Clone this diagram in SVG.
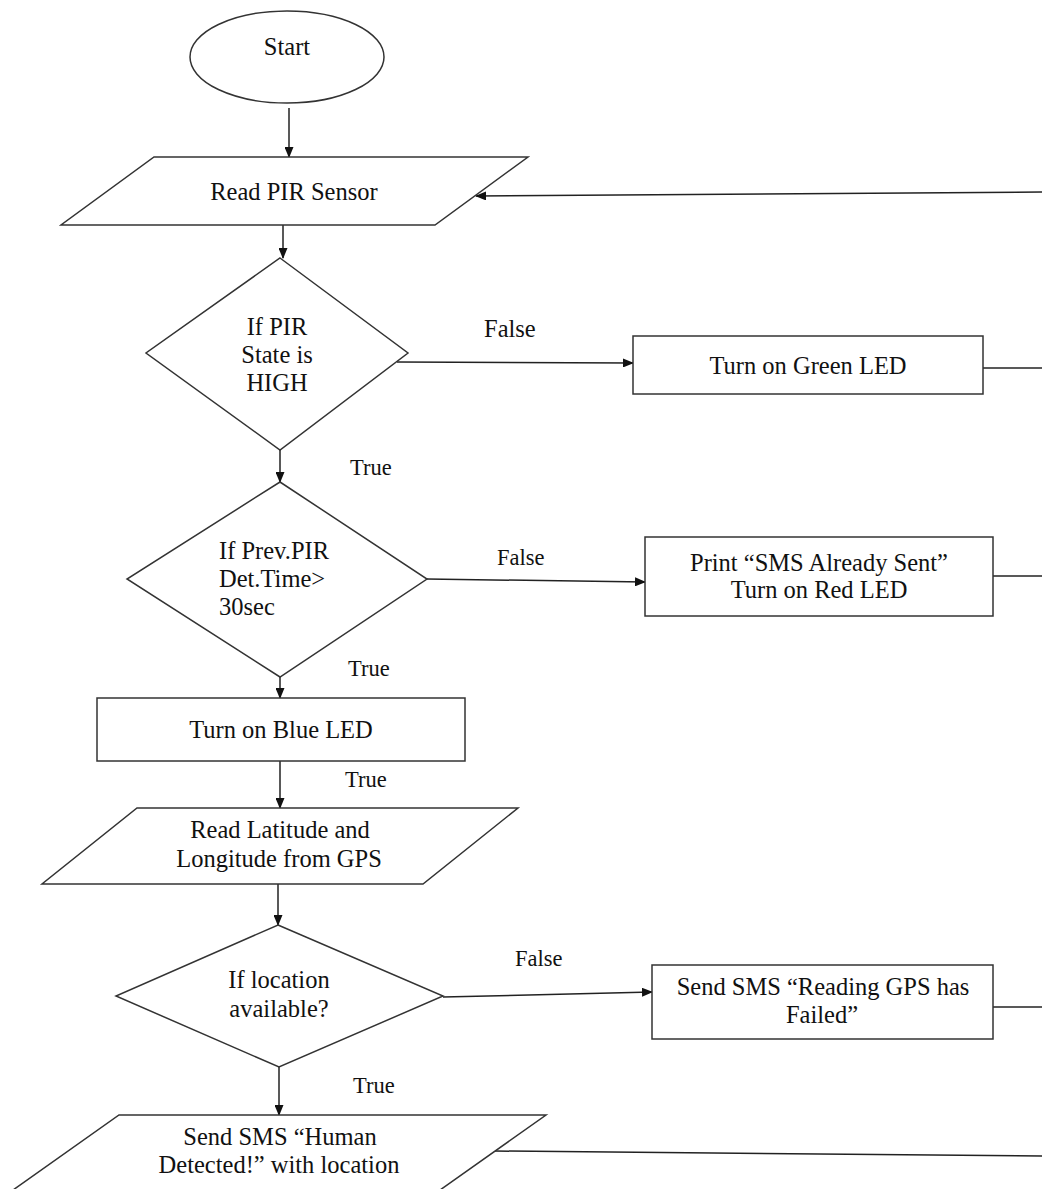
<svg xmlns="http://www.w3.org/2000/svg" width="1042" height="1189" viewBox="0 0 1042 1189" font-family="'Liberation Serif', Tinos, 'Times New Roman', 'DejaVu Serif', serif">
<defs>
<marker id="arr" markerWidth="11" markerHeight="9" refX="10" refY="4.5" orient="auto" markerUnits="userSpaceOnUse"><path d="M0,0 L11,4.5 L0,9 Z" fill="#111"/></marker>
</defs>
<style>
.shape{fill:#fff;stroke:#333;stroke-width:1.5}
.line{fill:none;stroke:#222;stroke-width:1.5}
text{font-family:'Liberation Serif', Tinos, 'Times New Roman', 'DejaVu Serif', serif;font-size:24.5px;fill:#111}
.c{text-anchor:middle}
.lbl{font-size:22.5px}
</style>
<rect width="1042" height="1189" fill="#fff"/>

<g id="connectors">
<path class="line" d="M289,108 L289,157" marker-end="url(#arr)"/>
<path class="line" d="M283,225 L283,258" marker-end="url(#arr)"/>
<path class="line" d="M397,362 L633,363" marker-end="url(#arr)"/>
<path class="line" d="M983,368 L1042,368"/>
<path class="line" d="M1042,192 L476,196" marker-end="url(#arr)"/>
<path class="line" d="M280,450 L280,482" marker-end="url(#arr)"/>
<path class="line" d="M427,579 L645,582" marker-end="url(#arr)"/>
<path class="line" d="M993,576 L1042,576"/>
<path class="line" d="M280,677 L280,698" marker-end="url(#arr)"/>
<path class="line" d="M280,761 L280,808" marker-end="url(#arr)"/>
<path class="line" d="M278,884 L278,925" marker-end="url(#arr)"/>
<path class="line" d="M443,997 L652,992" marker-end="url(#arr)"/>
<path class="line" d="M993,1007 L1042,1007"/>
<path class="line" d="M279,1067 L279,1115" marker-end="url(#arr)"/>
<path class="line" d="M495,1151 L1042,1156"/>
<text x="484" y="337">False</text>
<text class="lbl" x="350" y="475">True</text>
<text class="lbl" x="497" y="565">False</text>
<text class="lbl" x="348" y="676">True</text>
<text class="lbl" x="345" y="787">True</text>
<text class="lbl" x="515" y="966">False</text>
<text class="lbl" x="353" y="1093">True</text>
</g>

<g id="start">
<ellipse class="shape" cx="287" cy="57" rx="97" ry="46"/>
<text class="c" x="287" y="55">Start</text>
</g>

<g id="read-pir">
<polygon class="shape" points="154,157 528,157 435,225 61,225"/>
<text class="c" x="294" y="200">Read PIR Sensor</text>
</g>

<g id="pir-high">
<polygon class="shape" points="280,258 408,353 280,450 146,353"/>
<text class="c" x="277" y="335">If PIR</text>
<text class="c" x="277" y="363">State is</text>
<text class="c" x="277" y="391">HIGH</text>
</g>

<g id="green-led">
<rect class="shape" x="633" y="336" width="350" height="58"/>
<text class="c" x="808" y="374">Turn on Green LED</text>
</g>

<g id="prev-time">
<polygon class="shape" points="280,482 427,579 280,677 127,579"/>
<text x="219" y="559">If Prev.PIR</text>
<text x="219" y="587">Det.Time&gt;</text>
<text x="219" y="615">30sec</text>
</g>

<g id="already-sent">
<rect class="shape" x="645" y="537" width="348" height="79"/>
<text class="c" x="819" y="571">Print “SMS Already Sent”</text>
<text class="c" x="819" y="598">Turn on Red LED</text>
</g>

<g id="blue-led">
<rect class="shape" x="97" y="698" width="368" height="63"/>
<text class="c" x="281" y="738">Turn on Blue LED</text>
</g>

<g id="read-gps">
<polygon class="shape" points="137,808 518,808 423,884 42,884"/>
<text class="c" x="280" y="838">Read Latitude and</text>
<text class="c" x="279" y="867">Longitude from GPS</text>
</g>

<g id="location">
<polygon class="shape" points="278,925 443,996 279,1067 116,996"/>
<text class="c" x="279" y="988">If location</text>
<text class="c" x="279" y="1017">available?</text>
</g>

<g id="gps-failed">
<rect class="shape" x="652" y="965" width="341" height="74"/>
<text class="c" x="823" y="995">Send SMS “Reading GPS has</text>
<text class="c" x="822" y="1023">Failed”</text>
</g>

<g id="send-sms">
<polygon class="shape" points="119,1115 546,1115 433,1195 6,1195"/>
<text class="c" x="280" y="1145">Send SMS “Human</text>
<text class="c" x="279" y="1173">Detected!” with location</text>
</g>
</svg>
